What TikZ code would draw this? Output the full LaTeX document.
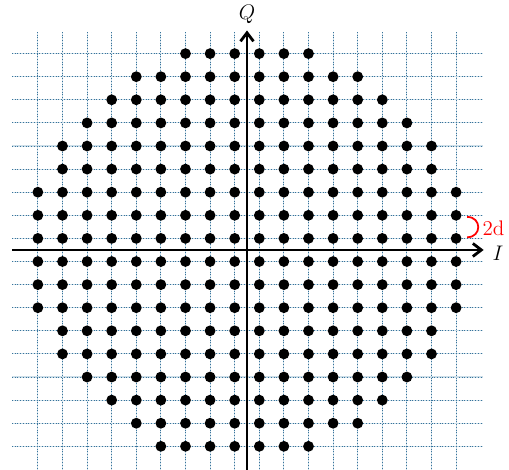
\documentclass[tikz,border=0pt]{standalone}
\usepackage{amsmath,amssymb}
\usepackage{tikz}
\usetikzlibrary{arrows.meta}

\definecolor{gridblue}{RGB}{55,115,155}
\definecolor{gridpale}{RGB}{205,222,232}

\begin{document}
\begin{tikzpicture}[x=0.492cm, y=0.462cm,
    paleline/.style={gridpale, line width=0.6pt},
    gridline/.style={gridblue, densely dotted, line width=0.55pt},
    axis/.style={line width=1.6pt, -{Straight Barb[length=1.7mm,width=2.6mm]}},
    lbl/.style={font=\fontsize{12}{14}\selectfont}
]
\useasboundingbox (-10.04,-9.52) rectangle (10.65,10.82);

\foreach \i in {-8,...,9} {
  \draw[paleline] (\i-0.5,-9.7) -- (\i-0.5,9.45);
  \draw[gridline] (\i-0.5,-9.7) -- (\i-0.5,9.45);
  \draw[paleline] (-9.55,\i-0.5) -- (9.6,\i-0.5);
  \draw[gridline] (-9.55,\i-0.5) -- (9.6,\i-0.5);
}

\foreach \y/\a/\b in {8.5/-2/3, 7.5/-4/5, 6.5/-5/6, 5.5/-6/7, 4.5/-7/8, 3.5/-7/8,
                      2.5/-8/9, 1.5/-8/9, 0.5/-8/9, -0.5/-8/9, -1.5/-8/9, -2.5/-8/9,
                      -3.5/-7/8, -4.5/-7/8, -5.5/-6/7, -6.5/-5/6, -7.5/-4/5, -8.5/-3/3}
  \foreach \i in {\a,...,\b}
    \fill (\i-0.5,\y) circle[radius=0.108cm];

\coordinate (iw) at (-9.55,0);
\coordinate (ie) at (9.62,0);
\coordinate (qs) at (0,-9.7);
\coordinate (qn) at (0,9.5);
\draw[axis] (iw) -- (ie);
\draw[axis] (qs) -- (qn);
\node[lbl] (ilabel) at (10.2,-0.15) {$I$};
\node[lbl] (qlabel) at (0,10.2) {$Q$};

\coordinate (dtop) at (8.95,1.43);
\coordinate (dbot) at (8.95,0.55);
\draw[red, line width=1pt] (dtop) .. controls +(0.6,0) and +(0.6,0) .. (dbot);
\node[lbl, red] (dlabel) at (10.02,0.92) {2d};
\end{tikzpicture}
\end{document}
